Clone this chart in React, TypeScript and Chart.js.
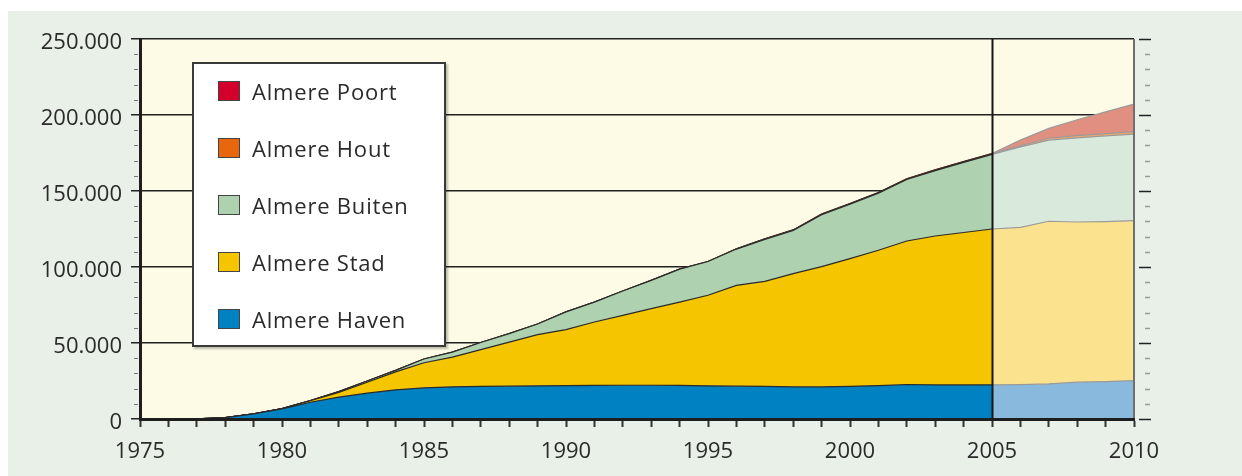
import React, { useEffect, useRef } from "react";
import { Chart, registerables } from "chart.js";

Chart.register(...registerables);

// ---------- DATA ----------
const years = [
  1975, 1976, 1977, 1978, 1979, 1980, 1981, 1982, 1983, 1984, 1985, 1986,
  1987, 1988, 1989, 1990, 1991, 1992, 1993, 1994, 1995, 1996, 1997, 1998,
  1999, 2000, 2001, 2002, 2003, 2004, 2005, 2006, 2007, 2008, 2009, 2010,
];

const havenValues = [
  0, 0, 100, 900, 3400, 6700, 11000, 14400, 17000, 19200, 20500, 21200,
  21400, 21600, 21800, 22000, 22100, 22200, 22200, 22100, 21800, 21600, 21400, 21200,
  21100, 21500, 22000, 22700, 22400, 22400, 22500, 22600, 23100, 24200, 24600, 25200,
];

const stadValues = [
  0, 0, 0, 0, 0, 100, 1000, 3100, 7200, 11800, 16500, 19500,
  24200, 29000, 33700, 36800, 41700, 46000, 50400, 54800, 59600, 66300, 69200, 74400,
  79100, 84000, 89000, 94400, 98000, 100300, 102500, 103500, 107000, 105400, 105300, 105300,
];

const buitenValues = [
  0, 0, 0, 0, 0, 0, 200, 500, 800, 1000, 2500, 3300,
  4700, 5600, 7000, 11700, 13100, 16000, 18600, 21700, 22200, 23900, 27600, 28500,
  34200, 35900, 37600, 40500, 43000, 46100, 49100, 52900, 53400, 55400, 56400, 56900,
];

const houtValues = [
  0, 0, 0, 0, 0, 0, 0, 0, 0, 0, 0, 0,
  0, 0, 0, 0, 0, 0, 0, 0, 0, 200, 300, 300,
  400, 400, 400, 500, 500, 500, 500, 800, 1200, 1400, 1500, 1600,
];

const poortValues = [
  0, 0, 0, 0, 0, 0, 0, 0, 0, 0, 0, 0,
  0, 0, 0, 0, 0, 0, 0, 0, 0, 0, 0, 0,
  0, 0, 0, 0, 0, 0, 0, 3700, 6500, 10500, 14300, 18200,
];

const seriesNames = ["Almere Haven", "Almere Stad", "Almere Buiten", "Almere Hout", "Almere Poort"];
const xTickLabels = [1975, 1980, 1985, 1990, 1995, 2000, 2005, 2010];
const forecastStartYear = 2005;

// ---------- STYLE ----------
const darkColors = ["#0081c1", "#f5c500", "#aed1b0", "#e8660c", "#d3002b"];
const lightColors = ["#89b9dc", "#fae28f", "#d9eadc", "#f2a868", "#e18f80"];
const darkBorders = ["#2a2a2a", "#2a2a2a", "#2a2a2a", "#4a2a20", "#5a2a2a"];
const FONT = "'Open Sans', 'DejaVu Sans', sans-serif";
const TEXT = "#2a2a2a";

const allSeries = [havenValues, stadValues, buitenValues, houtValues, poortValues];

const decorPlugin = {
  id: "decor",
  beforeDraw(chart: any) {
    const { ctx, chartArea: a } = chart;
    ctx.save();
    ctx.fillStyle = "#fdfbe5";
    ctx.fillRect(a.left, a.top, a.right - a.left, a.bottom - a.top);
    ctx.restore();
  },
  afterDatasetsDraw(chart: any) {
    const { ctx, chartArea: a, scales } = chart;
    const x = scales.x;
    const y = scales.y;
    ctx.save();
    // forecast divider
    const px = Math.round(x.getPixelForValue(forecastStartYear)) + 0.5;
    ctx.strokeStyle = "#151515";
    ctx.lineWidth = 2;
    ctx.beginPath();
    ctx.moveTo(px, a.top);
    ctx.lineTo(px, a.bottom);
    ctx.stroke();
    // right frame
    ctx.strokeStyle = "#6f6f6f";
    ctx.lineWidth = 2;
    ctx.beginPath();
    ctx.moveTo(a.right, a.top);
    ctx.lineTo(a.right, a.bottom);
    ctx.stroke();
    // left minor ticks and right ticks
    for (let v = 0; v <= y.max; v += 10000) {
      const py = Math.round(y.getPixelForValue(v)) + 0.5;
      const major = v % 50000 === 0;
      if (!major) {
        ctx.strokeStyle = "#777";
        ctx.lineWidth = 1;
        ctx.beginPath();
        ctx.moveTo(a.left - 6, py);
        ctx.lineTo(a.left - 2, py);
        ctx.stroke();
      }
      ctx.strokeStyle = major ? "#222" : "#9a9a9a";
      ctx.lineWidth = 1.5;
      ctx.beginPath();
      ctx.moveTo(a.right + (major ? 5 : 11), py);
      ctx.lineTo(a.right + (major ? 17 : 16), py);
      ctx.stroke();
    }
    ctx.restore();
  },
};

export default function App() {
  const canvasRef = useRef<HTMLCanvasElement | null>(null);

  useEffect(() => {
    const canvas = canvasRef.current;
    if (!canvas) return;
    const splitIndex = years.indexOf(forecastStartYear);

    const datasets = allSeries.map((vals, i) => ({
      label: seriesNames[i],
      data: years.map((yr, j) => ({ x: yr, y: vals[j] })),
      fill: i === 0 ? "origin" : "-1",
      backgroundColor: darkColors[i],
      borderColor: darkBorders[i],
      borderWidth: 1.2,
      pointRadius: 0,
      tension: 0,
      segment: {
        backgroundColor: (ctx: any) => (ctx.p0DataIndex >= splitIndex ? lightColors[i] : darkColors[i]),
        borderColor: (ctx: any) => (ctx.p0DataIndex >= splitIndex ? "#9a9a9a" : darkBorders[i]),
      },
    }));

    const chart = new Chart(canvas, {
      type: "line",
      data: { datasets },
      plugins: [decorPlugin],
      options: {
        responsive: false,
        animation: false,
        layout: { padding: { top: 39, right: 108, bottom: 0, left: 0 } },
        plugins: { legend: { display: false }, tooltip: { enabled: false } },
        scales: {
          x: {
            type: "linear",
            min: 1975,
            max: 2010,
            afterFit: (s: any) => {
              s.height = 57;
            },
            grid: {
              drawOnChartArea: false,
              drawTicks: true,
              tickLength: 8,
              tickColor: "#333",
              tickWidth: 2,
            },
            border: { display: true, color: "#1e1e1e", width: 3, z: 1 },
            ticks: {
              stepSize: 1,
              autoSkip: false,
              maxRotation: 0,
              padding: 12,
              color: TEXT,
              font: { family: FONT, size: 22 },
              callback: (v: any) => (xTickLabels.includes(Number(v)) ? String(v) : ""),
            },
          },
          y: {
            stacked: true,
            min: 0,
            max: 250000,
            afterFit: (s: any) => {
              s.width = 140;
            },
            grid: {
              color: "#222",
              lineWidth: 1.5,
              tickLength: 9,
              tickColor: "#222",
              tickWidth: 1.5,
            },
            border: { display: true, color: "#1e1e1e", width: 3, z: 1 },
            ticks: {
              stepSize: 50000,
              padding: 9,
              labelOffset: 4,
              color: TEXT,
              font: { family: FONT, size: 22 },
              callback: (v: any) => Number(v).toLocaleString("de-DE"),
            },
          },
        },
      },
    } as any);

    return () => chart.destroy();
  }, []);

  const legendOrder = seriesNames.map((n, i) => ({ name: n, color: darkColors[i] })).reverse();

  return (
    <div style={{ position: "fixed", left: 0, top: 0, width: 1242, height: 476, background: "#ffffff", overflow: "hidden" }}>
      <div style={{ position: "absolute", left: 8, top: 11, right: 0, bottom: 0, background: "#e8f0e7" }} />
      <canvas ref={canvasRef} width={1242} height={476} style={{ position: "absolute", left: 0, top: 0, width: 1242, height: 476 }} />
      <div
        style={{
          position: "absolute",
          left: 192,
          top: 62,
          width: 250,
          height: 281,
          background: "#ffffff",
          border: "2px solid #3a3a3a",
          boxShadow: "2px 2px 2px rgba(0,0,0,0.25)",
        }}
      >
        {legendOrder.map((item, k) => (
          <div key={item.name} style={{ position: "absolute", left: 24, top: 16 + k * 57, height: 22, display: "flex", alignItems: "center" }}>
            <div style={{ width: 20, height: 18, background: item.color, border: "1px solid #444" }} />
            <span
              style={{
                marginLeft: 12,
                fontFamily: FONT,
                fontSize: 22,
                color: TEXT,
                letterSpacing: 0.8,
                whiteSpace: "nowrap",
                lineHeight: "22px",
              }}
            >
              {item.name}
            </span>
          </div>
        ))}
      </div>
    </div>
  );
}
